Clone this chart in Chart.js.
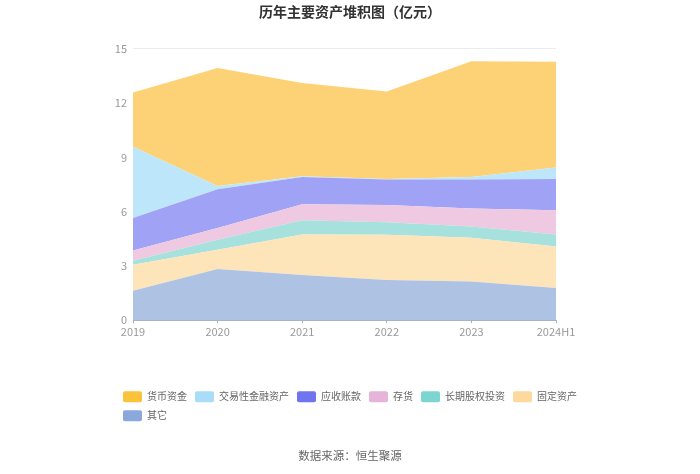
<!DOCTYPE html>
<html>
<head>
<meta charset="utf-8">
<script src="https://cdn.jsdelivr.net/npm/chart.js@4.4.1/dist/chart.umd.min.js"></script>
<style>
  html, body { margin: 0; padding: 0; background: #fff; }
  #wrap { width: 700px; height: 474px; }
</style>
</head>
<body>
<div id="wrap"><canvas id="chart"></canvas></div>
<script>
// 年份
const years = ['2019', '2020', '2021', '2022', '2023', '2024H1'];

// 各项资产（亿元），自下而上堆叠
const other = [1.63, 2.83, 2.50, 2.22, 2.14, 1.78];        // 其它
const fixedAssets = [1.43, 1.06, 2.24, 2.50, 2.42, 2.29];  // 固定资产
const longTermEquity = [0.23, 0.55, 0.78, 0.70, 0.62, 0.67]; // 长期股权投资
const inventory = [0.56, 0.65, 0.89, 0.95, 0.99, 1.33];    // 存货
const receivables = [1.80, 2.15, 1.51, 1.41, 1.61, 1.74];  // 应收账款
const tradingAssets = [3.94, 0.18, 0.04, 0.03, 0.14, 0.63]; // 交易性金融资产
const cash = [3.00, 6.52, 5.15, 4.83, 6.39, 5.84];         // 货币资金

const yTicks = [0, 3, 6, 9, 12, 15];

const font = '"Noto Sans CJK SC", "Noto Sans", sans-serif';

function area(label, data, fillColor, legendColor, first) {
    return {
        label: label,
        data: data,
        backgroundColor: fillColor,
        legendColor: legendColor,
        borderWidth: 0,
        pointRadius: 0,
        pointHoverRadius: 0,
        tension: 0,
        fill: first ? 'origin' : '-1'
    };
}

// 标题和来源居中于整个画布
const centerTexts = {
    id: 'centerTexts',
    afterLayout(chart) {
        chart.boxes.forEach(b => {
            if (b.options && typeof b.options.text === 'string') {
                b.left = 0;
                b.right = chart.width;
                b.width = chart.width;
            }
        });
    }
};

const ctx = document.getElementById('chart').getContext('2d');
new Chart(ctx, {
    type: 'line',
    data: {
        labels: years,
        datasets: [
            area('其它', other, '#aec3e4', '#8aa8db', true),
            area('固定资产', fixedAssets, '#fee4b9', '#fdd99e'),
            area('长期股权投资', longTermEquity, '#a6e1dd', '#7dd5d1'),
            area('存货', inventory, '#efc9e1', '#e6b4d8'),
            area('应收账款', receivables, '#a0a3f5', '#7174ef'),
            area('交易性金融资产', tradingAssets, '#bde6fa', '#a9dcf7'),
            area('货币资金', cash, '#fdd276', '#fcc23c')
        ]
    },
    plugins: [centerTexts],
    options: {
        responsive: true,
        maintainAspectRatio: false,
        animation: false,
        layout: { padding: { left: 115, right: 80, top: 0, bottom: 1 } },
        plugins: {
            title: {
                display: true,
                text: '历年主要资产堆积图（亿元）',
                color: '#333',
                font: { family: font, size: 14, weight: 'bold' },
                padding: { top: 3, bottom: 29 }
            },
            subtitle: {
                display: true,
                position: 'bottom',
                text: '数据来源：恒生聚源',
                color: '#666',
                font: { family: font, size: 11.5 },
                padding: { top: 18, bottom: 10 }
            },
            legend: {
                position: 'bottom',
                align: 'start',
                reverse: true,
                labels: {
                    boxWidth: 19,
                    boxHeight: 11,
                    padding: 8,
                    useBorderRadius: true,
                    borderRadius: 2,
                    color: '#666',
                    font: { family: font, size: 10 },
                    generateLabels: (chart) => {
                        const items = Chart.defaults.plugins.legend.labels.generateLabels(chart);
                        items.forEach(it => {
                            const ds = chart.data.datasets[it.datasetIndex];
                            it.fillStyle = ds.legendColor;
                            it.strokeStyle = ds.legendColor;
                            it.lineWidth = 0;
                            it.borderRadius = 2;
                        });
                        return items;
                    }
                }
            },
            tooltip: { enabled: false }
        },
        scales: {
            x: {
                offset: false,
                grid: {
                    display: true,
                    drawOnChartArea: false,
                    drawTicks: true,
                    tickLength: 3,
                    color: '#a9b3c4'
                },
                border: { display: true, color: '#a9b3c4' },
                ticks: {
                    color: '#999',
                    padding: 2,
                    maxRotation: 0,
                    autoSkip: false,
                    font: { family: font, size: 11 }
                },
                afterFit: s => { s.height = 63; }
            },
            y: {
                stacked: true,
                min: 0,
                max: 15,
                afterBuildTicks: s => { s.ticks = yTicks.map(v => ({ value: v })); },
                grid: { color: '#e8edf4', drawTicks: false },
                border: { display: false },
                ticks: {
                    color: '#999',
                    padding: 6,
                    font: { family: font, size: 11 }
                },
                afterFit: s => { s.width = 18; }
            },
            yR: {
                position: 'right',
                display: true,
                grid: { display: false, drawTicks: false },
                border: { display: false },
                ticks: { display: false },
                afterFit: s => { s.width = 64; }
            }
        }
    }
});
</script>
</body>
</html>
